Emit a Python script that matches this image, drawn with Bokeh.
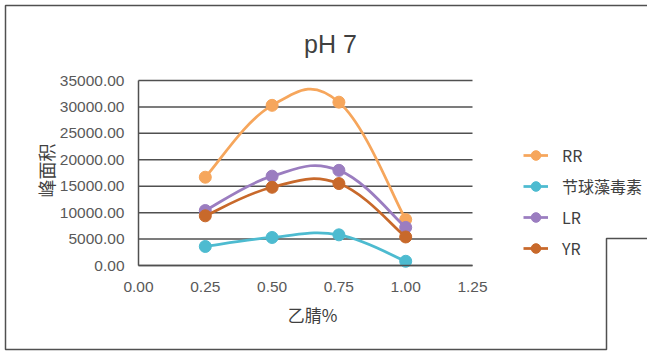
import numpy as np
from bokeh.plotting import figure
from bokeh.models import (ColumnDataSource, FixedTicker, NumeralTickFormatter, Legend,
                          LegendItem, PolyAnnotation, Range1d, LinearAxis, Label)
from bokeh.embed import file_html
from bokeh.resources import INLINE

# ---- data ----
acetonitrile = [0.25, 0.50, 0.75, 1.00]
rr_values = [16700, 30300, 30900, 8700]
nodularin_values = [3600, 5300, 5800, 800]
lr_values = [10400, 16900, 18000, 7200]
yr_values = [9400, 14800, 15500, 5400]
series_names = ["RR", "节球藻毒素", "LR", "YR"]
series_colors = ["#F6A65C", "#4DBBD0", "#9B7DC0", "#C8692B"]
x_ticks = [0.0, 0.25, 0.50, 0.75, 1.00, 1.25]
y_ticks = [0, 5000, 10000, 15000, 20000, 25000, 30000, 35000]
title_text = "pH 7"
x_label = "乙腈%"
y_label = "峰面积"

NUM_FONT = "'Liberation Sans', Arial, 'Noto Sans CJK SC'"
CJK_FONT = "'Noto Sans CJK SC', 'Liberation Sans'"

W, H = 647, 351
# plot-area placement on the canvas (pixels)
PL, PR, PT, PB = 138, 472, 80, 265
xmin, xmax = x_ticks[0], x_ticks[-1]
ymin, ymax = y_ticks[0], y_ticks[-1]
sx = (PR - PL) / (xmax - xmin)
sy = (PB - PT) / (ymax - ymin)
x_range = Range1d(xmin - PL / sx, xmax + (W - PR) / sx)
y_range = Range1d(ymin - (H - PB) / sy, ymax + PT / sy)

p = figure(width=W, height=H, output_backend="svg", toolbar_location=None,
           x_range=x_range, y_range=y_range, min_border=0,
           x_axis_location=None, y_axis_location=None)
p.outline_line_color = None
p.background_fill_color = "white"
p.border_fill_color = "white"
p.xgrid.visible = False
p.ygrid.visible = False

# horizontal gridlines over the plot area
p.segment(x0=[xmin] * len(y_ticks), x1=[xmax] * len(y_ticks), y0=y_ticks, y1=y_ticks,
          line_color="#505050", line_width=1.5)

xaxis = LinearAxis(fixed_location=ymin, ticker=FixedTicker(ticks=x_ticks),
                   formatter=NumeralTickFormatter(format="0.00"), bounds=(xmin, xmax))
yaxis = LinearAxis(fixed_location=xmin, ticker=FixedTicker(ticks=y_ticks),
                   formatter=NumeralTickFormatter(format="0.00"), bounds=(ymin, ymax))
for ax in (xaxis, yaxis):
    ax.major_tick_line_color = None
    ax.minor_tick_line_color = None
    ax.major_label_text_font = NUM_FONT
    ax.major_label_text_font_size = "15.5px"
    ax.major_label_text_color = "#595959"
    ax.axis_line_color = "#505050"
    ax.axis_line_width = 1.5
xaxis.major_label_standoff = 10
yaxis.major_label_standoff = 8
p.add_layout(xaxis, "below")
p.add_layout(yaxis, "left")


def smooth_segments(xs, ys, t=0.2):
    pts = np.column_stack([xs, ys]).astype(float)
    n = len(pts)
    d = dict(x0=[], y0=[], x1=[], y1=[], cx0=[], cy0=[], cx1=[], cy1=[])
    for i in range(n - 1):
        p0 = pts[i - 1] if i > 0 else pts[i]
        p1 = pts[i]
        p2 = pts[i + 1]
        p3 = pts[i + 2] if i + 2 < n else pts[i + 1]
        c1 = p1 + (p2 - p0) * t
        c2 = p2 - (p3 - p1) * t
        d["x0"].append(p1[0]); d["y0"].append(p1[1])
        d["x1"].append(p2[0]); d["y1"].append(p2[1])
        d["cx0"].append(c1[0]); d["cy0"].append(c1[1])
        d["cx1"].append(c2[0]); d["cy1"].append(c2[1])
    return ColumnDataSource(d)


items = []
for name, vals, col in zip(series_names,
                           [rr_values, nodularin_values, lr_values, yr_values],
                           series_colors):
    src = smooth_segments(acetonitrile, vals)
    b = p.bezier(x0="x0", y0="y0", x1="x1", y1="y1", cx0="cx0", cy0="cy0",
                 cx1="cx1", cy1="cy1", source=src, line_color=col, line_width=2.75)
    s = p.scatter(acetonitrile, vals, size=12, fill_color=col, line_color=col, marker="circle")
    items.append(LegendItem(label=name, renderers=[b, s]))

legend = Legend(items=items, location=(523, 91), orientation="vertical",
                glyph_width=25, glyph_height=24, spacing=7, padding=0, margin=0,
                label_text_font=CJK_FONT, label_text_font_size="16px",
                label_text_color="#404040", label_standoff=14,
                border_line_color=None, background_fill_alpha=0)
p.add_layout(legend, "center")

# title and axis titles (screen units: from the canvas' bottom-left)
p.add_layout(Label(x=330, y=H - 43, x_units="screen", y_units="screen", text=title_text,
                   text_font=NUM_FONT, text_font_size="25px", text_color="#404040",
                   text_align="center", text_baseline="middle"))
p.add_layout(Label(x=312, y=H - 314, x_units="screen", y_units="screen", text=x_label,
                   text_font=CJK_FONT, text_font_size="17px", text_color="#404040",
                   text_align="center", text_baseline="middle"))
p.add_layout(Label(x=45, y=H - 170, x_units="screen", y_units="screen", text=y_label,
                   text_font=CJK_FONT, text_font_size="18px", text_color="#404040",
                   text_align="center", text_baseline="middle", angle=np.pi / 2))

# outer chart border (with the notch at lower right)
border = PolyAnnotation(xs=[649, 5, 5, 606, 606, 649],
                        ys=[H - 5, H - 5, H - 349, H - 349, H - 238, H - 238],
                        xs_units="screen", ys_units="screen",
                        fill_alpha=0, line_color="#505050", line_alpha=1.0, line_width=1.5)
p.add_layout(border)

open("out.html", "w").write(file_html(p, INLINE))
